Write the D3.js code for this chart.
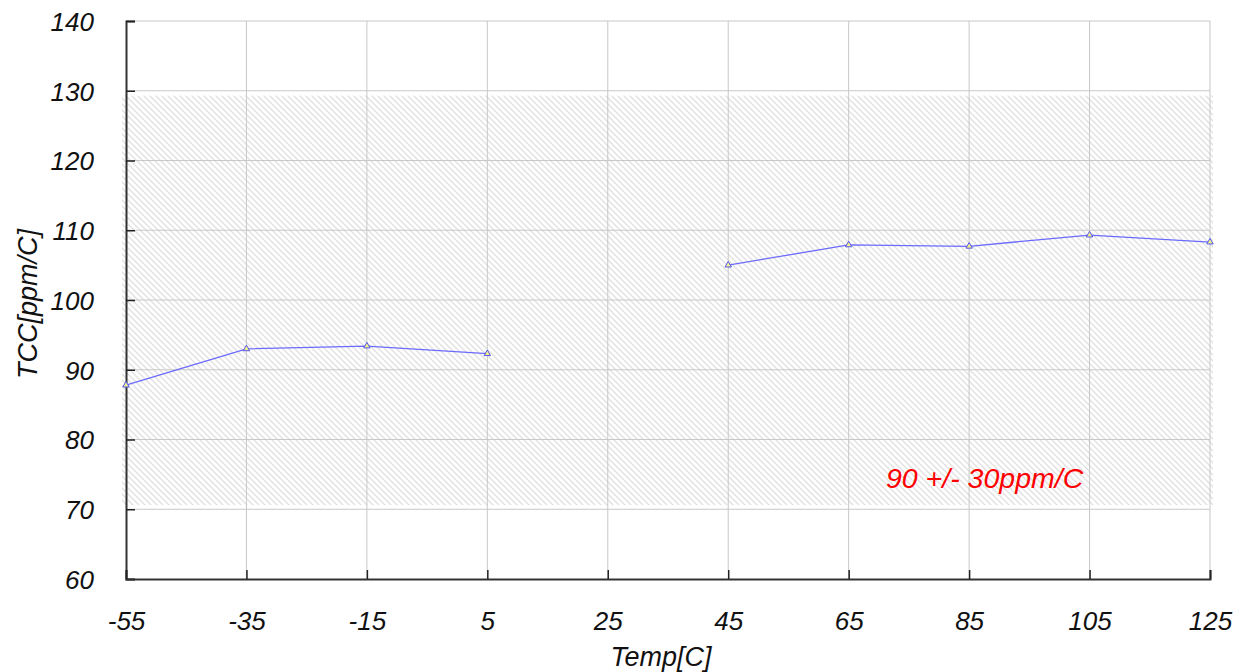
<!DOCTYPE html>
<html><head><meta charset="utf-8">
<script src="https://cdn.jsdelivr.net/npm/d3@7"></script>
<style>body{margin:0;background:#fff}svg{display:block}text{font-family:"Liberation Sans",Arial,sans-serif;font-style:italic}</style>
</head><body><svg id="c" width="1244" height="672"></svg>
<script>
const temps = [-55, -35, -15, 5, 25, 45, 65, 85, 105, 125];
const tcc = [87.8, 93.0, 93.4, 92.3, null, 105.0, 107.9, 107.7, 109.3, 108.3];
const xTicks = [-55, -35, -15, 5, 25, 45, 65, 85, 105, 125];
const yTicks = [60, 70, 80, 90, 100, 110, 120, 130, 140];
const band = [70.6, 129.3];
const bandLabel = "90 +/- 30ppm/C";
const labelPos = [71.2, 73];

const svg = d3.select("#c");
const L = 126, R = 1210, T = 21, B = 579;
const x = d3.scaleLinear().domain([-55, 125]).range([L, R]);
const y = d3.scaleLinear().domain([60, 140]).range([B, T]);

const defs = svg.append("defs");
const pat = defs.append("pattern").attr("id","hatch").attr("patternUnits","userSpaceOnUse")
  .attr("width",6).attr("height",6);
pat.append("path").attr("d","M-1,-1 L7,7 M-1,5 L1,7 M5,-1 L7,1").attr("stroke","#e2e2e2").attr("stroke-width",1.5);

// band
svg.append("rect").attr("x", L-4).attr("y", y(band[1])).attr("width", R-L+7)
  .attr("height", y(band[0])-y(band[1])).attr("fill","url(#hatch)");

// gridlines
svg.append("g").selectAll("line").data(yTicks.filter(d=>d>60)).join("line")
  .attr("x1",L).attr("x2",R).attr("y1",d=>y(d)).attr("y2",d=>y(d))
  .attr("stroke","#c8c8c8").attr("stroke-width",1);
svg.append("g").selectAll("line").data(xTicks.slice(1)).join("line")
  .attr("x1",d=>x(d)).attr("x2",d=>x(d)).attr("y1",T).attr("y2",B)
  .attr("stroke","#c8c8c8").attr("stroke-width",1);

// axes
const fmt = d => String(d);
const yAx = svg.append("g").attr("transform",`translate(${L},0)`)
  .call(d3.axisLeft(y).tickValues(yTicks).tickSize(-9).tickFormat(fmt));
const xAx = svg.append("g").attr("transform",`translate(0,${B})`)
  .call(d3.axisBottom(x).tickValues(xTicks).tickSize(-9).tickFormat(fmt));
[yAx, xAx].forEach(g=>{
  g.select(".domain").attr("stroke","#333").attr("stroke-width",2);
  g.selectAll(".tick line").attr("stroke","#222").attr("stroke-width",1.5);
  g.selectAll(".tick text").attr("fill","#111").attr("font-size",26)
   .style("font-family",'"Liberation Sans",Arial,sans-serif').style("font-style","italic");
});
yAx.selectAll(".tick text").attr("x",-32).attr("dy","0.36em");
xAx.selectAll(".tick text").attr("y",51).attr("dy",0);

// line
const pts = temps.map((t,i)=>({t, v:tcc[i]}));
svg.append("path").datum(pts)
  .attr("d", d3.line().defined(d=>d.v!==null).x(d=>x(d.t)).y(d=>y(d.v)))
  .attr("fill","none").attr("stroke","#6a6aff").attr("stroke-width",1.3);
svg.append("g").selectAll("path").data(pts.filter(d=>d.v!==null)).join("path")
  .attr("transform",d=>`translate(${x(d.t)},${y(d.v)})`)
  .attr("d", d3.symbol(d3.symbolTriangle, 18)())
  .attr("fill","#f2f28a").attr("stroke","#5555ee").attr("stroke-width",1);

// band label
svg.append("text").attr("x",x(labelPos[0])).attr("y",y(labelPos[1]))
  .attr("fill","#ff0000").attr("font-size",28.5).text(bandLabel);

// axis titles
svg.append("text").attr("x",661).attr("y",666).attr("text-anchor","middle")
  .attr("font-size",27).attr("fill","#111").text("Temp[C]");
svg.append("text").attr("transform",`translate(37,304) rotate(-90)`).attr("text-anchor","middle")
  .attr("font-size",27).attr("fill","#111").text("TCC[ppm/C]");
</script></body></html>
